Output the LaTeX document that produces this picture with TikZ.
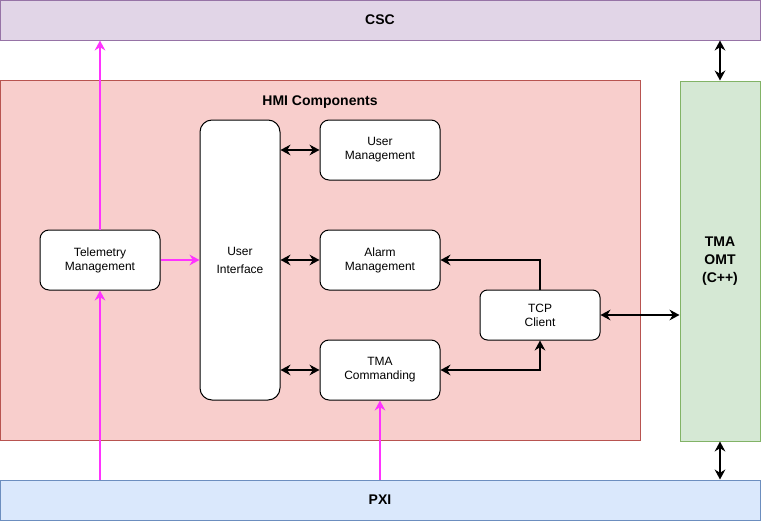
\documentclass[tikz,border=0pt]{standalone}
\usepackage{xcolor}
\usepackage{fontspec}
\setmainfont{Liberation Sans}
\usepackage{tikz}
\usetikzlibrary{arrows.meta}

\definecolor{cscFill}{HTML}{E1D5E7}
\definecolor{cscLine}{HTML}{9673A6}
\definecolor{hmiFill}{HTML}{F8CECC}
\definecolor{hmiLine}{HTML}{B85450}
\definecolor{omtFill}{HTML}{D5E8D4}
\definecolor{omtLine}{HTML}{82B366}
\definecolor{pxiFill}{HTML}{DAE8FC}
\definecolor{pxiLine}{HTML}{6C8EBF}
\definecolor{tlmPink}{HTML}{FF33FF}

\tikzset{
  layer/.style={draw, line width=0.75pt, inner sep=0pt, font=\fontsize{10.5}{13.5}\selectfont\bfseries},
  comp/.style={draw, fill=white, line width=0.75pt, rounded corners=6.75pt, inner sep=0pt,
    minimum width=90pt, minimum height=45pt, align=center, font=\fontsize{9}{10.5}\selectfont},
  link/.style={line width=1.5pt, {Stealth[length=7.5pt,width=8pt,inset=2.5pt]}-{Stealth[length=7.5pt,width=8pt,inset=2.5pt]}},
  feed/.style={line width=1.5pt, tlmPink, -{Stealth[length=7.5pt,width=8pt,inset=2.5pt]}},
  push/.style={line width=1.5pt, -{Stealth[length=7.5pt,width=8pt,inset=2.5pt]}}
}

\begin{document}
\begin{tikzpicture}[x=0.75pt, y=-0.75pt]
\newcommand{\Wfull}{570pt};
\newcommand{\Hbar}{30pt};
\useasboundingbox (0,0) rectangle (761,521);

% layers
\node[layer, fill=cscFill, draw=cscLine, minimum width=\Wfull, minimum height=\Hbar] (csc) at (380,20) {CSC};
\node[layer, fill=pxiFill, draw=pxiLine, minimum width=\Wfull, minimum height=\Hbar] (pxi) at (380,500) {PXI};
\node[layer, fill=hmiFill, draw=hmiLine, minimum width=480pt, minimum height=270pt] (hmi) at (320,260) {};
\node[layer, fill=omtFill, draw=omtLine, minimum width=60pt, minimum height=270pt, align=center] (omt) at (720,261) {TMA\\OMT\\(C++)};
\node[font=\fontsize{10.5}{13.5}\selectfont\bfseries] (hmiTitle) at (320,102) {HMI Components};

% components
\node[comp] (tlm) at (100,260) {Telemetry\\Management};
\node[comp, minimum width=60pt, minimum height=210pt, rounded corners=9pt,
  font=\fontsize{9}{13.5}\selectfont] (ui) at (240,260) {User\\Interface};
\node[comp] (usr) at (380,150) {User\\Management};
\node[comp] (alm) at (380,260) {Alarm\\Management};
\node[comp] (cmd) at (380,370) {TMA\\Commanding};
\node[comp, minimum height=37.5pt, rounded corners=5.6pt] (tcp) at (540,315) {TCP\\Client};
%

% connectors
\draw[link] (ui.east |- usr.west) -- (usr.west);
\draw[link] (ui.east |- alm.west) -- (alm.west);
\draw[link] (ui.east |- cmd.west) -- (cmd.west);
\draw[push] (tcp.north) |- (alm.east);
\draw[link] (cmd.east) -| (tcp.south);
\draw[link] (tcp.east) -- (tcp.east -| omt.west);
\draw[link] (omt.north) -- (omt.north |- csc.south);
\draw[link] (omt.south) -- (omt.south |- pxi.north);

% telemetry feeds
\draw[feed] (tlm.north) -- (tlm.north |- csc.south);
\draw[feed] (tlm.east) -- (tlm.east -| ui.west);
\draw[feed] (tlm.south |- pxi.north) -- (tlm.south);
\draw[feed] (cmd.south |- pxi.north) -- (cmd.south);
%
\end{tikzpicture}
\end{document}
